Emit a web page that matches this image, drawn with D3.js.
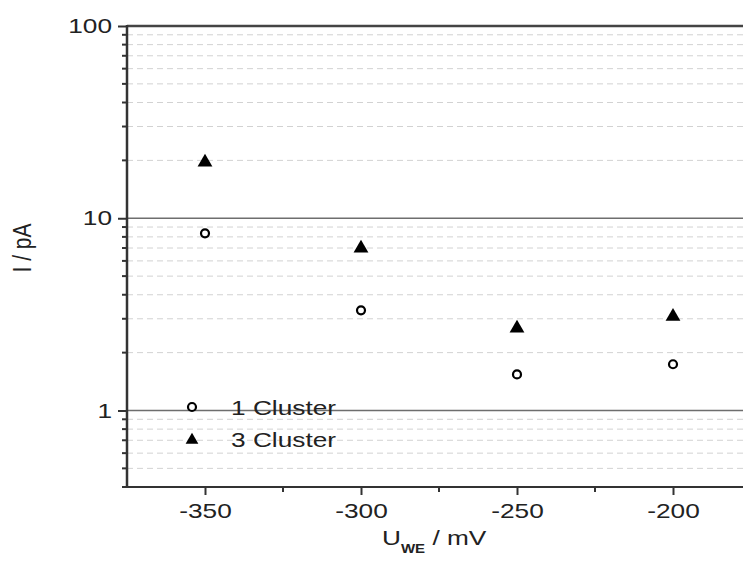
<!DOCTYPE html>
<html>
<head>
<meta charset="utf-8">
<script src="https://cdn.jsdelivr.net/npm/d3@7"></script>
<style>
  html, body { margin: 0; padding: 0; background: #fff; }
  svg { display: block; font-family: "Liberation Sans", Arial, sans-serif; }
</style>
</head>
<body>
<svg id="chart" width="743" height="565"></svg>
<script>
// ---- data ----
const potentials = [-350, -300, -250, -200];
const oneCluster = [8.35, 3.32, 1.54, 1.74];
const threeCluster = [19.8, 7.06, 2.71, 3.12];
const seriesNames = ["1 Cluster", "3 Cluster"];
const xTickValues = [-350, -300, -250, -200];
const xMinorTicks = [-325, -275, -225];
const yTickValues = [1, 10, 100];
const yMinorTicks = [0.4, 0.5, 0.6, 0.7, 0.8, 0.9, 2, 3, 4, 5, 6, 7, 8, 9, 20, 30, 40, 50, 60, 70, 80, 90];
const yGridMinor = [0.5, 0.6, 0.7, 0.8, 0.9, 2, 3, 4, 5, 6, 7, 8, 9, 20, 30, 40, 50, 60, 70, 80, 90];

const SX = 1.25; // horizontal stretch of the original lettering
const svg = d3.select("#chart");
const L = 127, T = 26, B = 487;
const x = d3.scaleLinear().domain([-375, -175]).range([L, L + 200 * 3.12]);
const y = d3.scaleLog().domain([0.4, 100]).range([B, T]);
const R = 743;

// minor dashed grid
svg.append("g").selectAll("line").data(yGridMinor).join("line")
  .attr("x1", L).attr("x2", R)
  .attr("y1", d => y(d)).attr("y2", d => y(d))
  .attr("stroke", "#d2d2d2").attr("stroke-width", 1)
  .attr("stroke-dasharray", "6,4");

// major grid
svg.append("g").selectAll("line").data([1, 10]).join("line")
  .attr("x1", L).attr("x2", R)
  .attr("y1", d => y(d)).attr("y2", d => y(d))
  .attr("stroke", "#6e6e6e").attr("stroke-width", 1.5);

// top border
svg.append("line").attr("x1", L).attr("x2", R).attr("y1", T).attr("y2", T)
  .attr("stroke", "#444").attr("stroke-width", 2.5);

// x axis
const xAxis = d3.axisBottom(x).tickValues(xTickValues).tickSize(8).tickPadding(8)
  .tickFormat(d3.format("d"));
const gx = svg.append("g").attr("transform", `translate(0,${B})`).call(xAxis);
gx.select(".domain").remove();
gx.append("line").attr("x1", L).attr("x2", R).attr("y1", 0).attr("y2", 0)
  .attr("stroke", "#333").attr("stroke-width", 2);
gx.selectAll(".tick line").attr("stroke", "#333").attr("stroke-width", 2);
gx.selectAll(".tick text").attr("fill", "#222").style("font-size", "21px")
  .attr("transform", `scale(${SX},1)`)
  .text(d => "-" + Math.abs(d));
gx.append("g").selectAll("line").data(xMinorTicks).join("line")
  .attr("x1", d => x(d)).attr("x2", d => x(d)).attr("y1", 0).attr("y2", 5)
  .attr("stroke", "#333").attr("stroke-width", 2);

// y axis
const yAxis = d3.axisLeft(y).tickValues(yTickValues).tickSize(9).tickPadding(6)
  .tickFormat(d3.format("d"));
const gy = svg.append("g").attr("transform", `translate(${L},0)`).call(yAxis);
gy.select(".domain").remove();
gy.append("line").attr("x1", 0).attr("x2", 0).attr("y1", T - 1).attr("y2", B + 1)
  .attr("stroke", "#333").attr("stroke-width", 2.5);
gy.selectAll(".tick line").attr("stroke", "#333").attr("stroke-width", 2);
gy.selectAll(".tick text").attr("fill", "#222").style("font-size", "21px")
  .attr("x", -12).attr("transform", `scale(${SX},1)`);
gy.append("g").selectAll("line").data(yMinorTicks).join("line")
  .attr("x1", 0).attr("x2", -5).attr("y1", d => y(d)).attr("y2", d => y(d))
  .attr("stroke", "#333").attr("stroke-width", 2);

// axis titles
svg.append("text")
  .attr("transform", `translate(31,248) rotate(-90) scale(1,${SX})`)
  .attr("text-anchor", "middle").attr("fill", "#222").style("font-size", "21px")
  .text("I / pA");
const xt = svg.append("text").attr("transform", `translate(382,545) scale(${SX},1)`)
  .attr("fill", "#222").style("font-size", "21px");
xt.append("tspan").text("U");
xt.append("tspan").attr("dy", 8).style("font-size", "12px").style("font-weight", "bold").text("WE");
xt.append("tspan").attr("dy", -8).text(" / mV");

// markers
const tri = d3.symbol().type(d3.symbolTriangle).size(95);
svg.append("g").selectAll("path").data(potentials).join("path")
  .attr("d", tri)
  .attr("transform", (d, i) => `translate(${x(d)},${y(threeCluster[i]) + 1})`)
  .attr("fill", "#000");
svg.append("g").selectAll("circle").data(potentials).join("circle")
  .attr("cx", d => x(d)).attr("cy", (d, i) => y(oneCluster[i]))
  .attr("r", 4).attr("fill", "#fff").attr("stroke", "#000").attr("stroke-width", 2.2);

// legend
const lg = svg.append("g");
lg.append("circle").attr("cx", 192).attr("cy", 407).attr("r", 4)
  .attr("fill", "#fff").attr("stroke", "#000").attr("stroke-width", 2.2);
lg.append("path").attr("d", d3.symbol().type(d3.symbolTriangle).size(70))
  .attr("transform", "translate(192,440)").attr("fill", "#000");
lg.selectAll("text").data(seriesNames).join("text")
  .attr("transform", (d, i) => `translate(231,${415 + i * 32}) scale(${SX},1)`)
  .attr("fill", "#222").style("font-size", "21px").text(d => d);
</script>
</body>
</html>
